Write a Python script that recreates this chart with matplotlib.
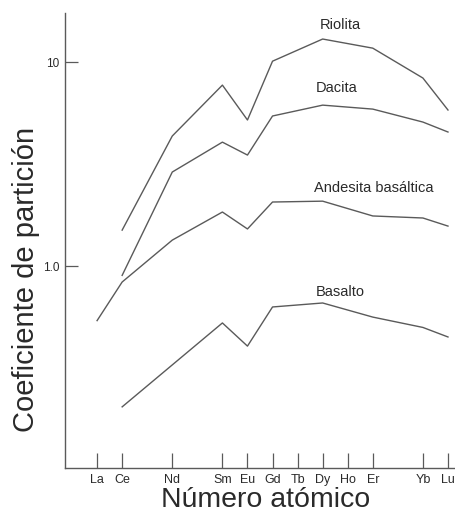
import numpy as np
import matplotlib
matplotlib.use("Agg")
import matplotlib.pyplot as plt

plt.rcParams['font.family'] = ['Liberation Sans', 'DejaVu Sans']

# REE atomic numbers and labels
elements = ['La', 'Ce', 'Nd', 'Sm', 'Eu', 'Gd', 'Tb', 'Dy', 'Ho', 'Er', 'Yb', 'Lu']
atomicNum = [57, 58, 60, 62, 63, 64, 65, 66, 67, 68, 70, 71]

# partition coefficients
riolitaX = ['Ce', 'Nd', 'Sm', 'Eu', 'Gd', 'Dy', 'Er', 'Yb', 'Lu']
riolitaY = [1.50, 4.34, 7.71, 5.2, 10.1, 12.97, 11.7, 8.35, 5.82]

dacitaX = ['Ce', 'Nd', 'Sm', 'Eu', 'Gd', 'Dy', 'Er', 'Yb', 'Lu']
dacitaY = [0.90, 2.89, 4.05, 3.50, 5.44, 6.15, 5.88, 5.08, 4.54]

andesitaX = ['La', 'Ce', 'Nd', 'Sm', 'Eu', 'Gd', 'Dy', 'Er', 'Yb', 'Lu']
andesitaY = [0.54, 0.835, 1.34, 1.84, 1.52, 2.06, 2.08, 1.76, 1.72, 1.57]

basaltoX = ['Ce', 'Sm', 'Eu', 'Gd', 'Dy', 'Er', 'Yb', 'Lu']
basaltoY = [0.204, 0.526, 0.405, 0.63, 0.659, 0.562, 0.50, 0.449]

lineColor = '#5a5a5a'
textColor = '#2a2a2a'


def toZ(names):
    return [atomicNum[elements.index(n)] for n in names]


fig = plt.figure(figsize=(4.56, 5.13), dpi=100)
ax = fig.add_axes([65 / 456, 45 / 513, 391 / 456, 455 / 513])

# label offsets (pixels) from each curve's Dy point
series = [
    ('Riolita', riolitaX, riolitaY, (18, 14)),
    ('Dacita', dacitaX, dacitaY, (14, 17)),
    ('Andesita basáltica', andesitaX, andesitaY, (51, 13)),
    ('Basalto', basaltoX, basaltoY, (18, 11)),
]
for name, xs, ys, off in series:
    ax.plot(toZ(xs), ys, color=lineColor, lw=1.0)
    iDy = xs.index('Dy')
    ax.annotate(name, xy=(toZ(xs)[iDy], ys[iDy]), xytext=off,
                textcoords='offset pixels', ha='center', va='center',
                fontsize=10.5, color=textColor)

ax.set_yscale('log')
ax.set_xlim(55.72, 71.32)
ax.set_ylim(0.1023, 17.4)

ax.set_xticks(atomicNum)
ax.set_xticklabels(elements)
ax.set_yticks([1, 10])
ax.set_yticklabels(['1.0', '10'])
ax.yaxis.set_minor_locator(matplotlib.ticker.NullLocator())

ax.tick_params(axis='x', direction='in', length=11, width=0.9, color=lineColor,
               pad=4, labelsize=9, labelcolor=textColor)
ax.tick_params(axis='y', direction='in', length=9, width=0.9, color=lineColor,
               pad=4, labelsize=8.5, labelcolor=textColor)

for side in ['top', 'right']:
    ax.spines[side].set_visible(False)
for side in ['left', 'bottom']:
    ax.spines[side].set_color(lineColor)
    ax.spines[side].set_linewidth(1.0)

fig.text(26 / 456, 1 - 279 / 513, 'Coeficiente de partición', rotation=90,
         ha='center', va='center', fontsize=21, color=textColor)
fig.text(266 / 456, 1 - 507 / 513, 'Número atómico',
         ha='center', va='baseline', fontsize=20.5, color=textColor)

fig.savefig('out.png', dpi=100)
